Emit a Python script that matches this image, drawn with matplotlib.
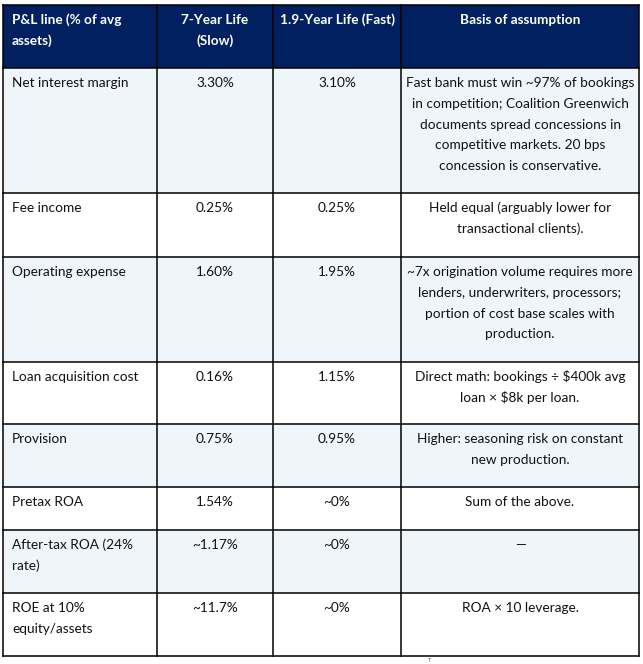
import matplotlib.pyplot as plt
from matplotlib.patches import Rectangle

# table content
header = ["P&L line (% of avg\nassets)", "7-Year Life\n(Slow)", "1.9-Year Life (Fast)", "Basis of assumption"]
line_items = ["Net interest margin", "Fee income", "Operating expense", "Loan acquisition cost",
              "Provision", "Pretax ROA", "After-tax ROA (24%\nrate)", "ROE at 10%\nequity/assets"]
slow_life = ["3.30%", "0.25%", "1.60%", "0.16%", "0.75%", "1.54%", "~1.17%", "~11.7%"]
fast_life = ["3.10%", "0.25%", "1.95%", "1.15%", "0.95%", "~0%", "~0%", "~0%"]
basis = [
    "Fast bank must win ~97% of bookings\nin competition; Coalition Greenwich\ndocuments spread concessions in\ncompetitive markets. 20 bps\nconcession is conservative.",
    "Held equal (arguably lower for\ntransactional clients).",
    "~7x origination volume requires more\nlenders, underwriters, processors;\nportion of cost base scales with\nproduction.",
    "Direct math: bookings ÷ $400k avg\nloan × $8k per loan.",
    "Higher: seasoning risk on constant\nnew production.",
    "Sum of the above.",
    "—",
    "ROA × 10 leverage.",
]

# layout in pixels
col_x = [3, 157, 273, 401, 639]
row_y = [5, 68, 193, 257, 362, 424, 487, 530, 593, 656]
navy = "#002060"
shade = "#F0F5FA"
font = "Lato"
fs = 9.8

fig = plt.figure(figsize=(6.43, 6.64), dpi=100)
ax = fig.add_axes([0, 0, 1, 1])
ax.set_xlim(0, 643)
ax.set_ylim(664, 0)
ax.axis("off")


def put_text(text, col, top, bold=False, color="#111111"):
    left, right = col_x[col], col_x[col + 1]
    for i, line in enumerate(text.split("\n")):
        y = top + 19 + i * 20.8
        if col == 0:
            ax.text(left + 9, y, line, ha="left", va="baseline", fontsize=fs,
                    family=font, fontweight="bold" if bold else "normal",
                    color=color, parse_math=False)
        else:
            ax.text((left + right) / 2, y, line, ha="center", va="baseline", fontsize=fs,
                    family=font, fontweight="bold" if bold else "normal",
                    color=color, parse_math=False)


# header
ax.add_patch(Rectangle((col_x[0], row_y[0]), col_x[-1] - col_x[0], row_y[1] - row_y[0],
                       facecolor=navy, edgecolor="none"))
for c, h in enumerate(header):
    put_text(h, c, row_y[0], bold=True, color="white")

# body rows
for r in range(len(line_items)):
    top, bottom = row_y[r + 1], row_y[r + 2]
    if r % 2 == 0:
        ax.add_patch(Rectangle((col_x[0], top), col_x[-1] - col_x[0], bottom - top,
                               facecolor=shade, edgecolor="none"))
    cells = [line_items[r], slow_life[r], fast_life[r], basis[r]]
    for c, txt in enumerate(cells):
        put_text(txt, c, top)

# grid lines
for y in row_y:
    ax.plot([col_x[0], col_x[-1]], [y, y], color="black", lw=1.1, solid_capstyle="projecting")
for x in col_x:
    ax.plot([x, x], [row_y[0], row_y[-1]], color="black", lw=1.1, solid_capstyle="projecting")

# tiny stray mark under the table
ax.text(430, 663, "T", fontsize=4, color="#555555", ha="center", va="bottom", family=font)

fig.savefig("out.png", dpi=100, facecolor="white")
